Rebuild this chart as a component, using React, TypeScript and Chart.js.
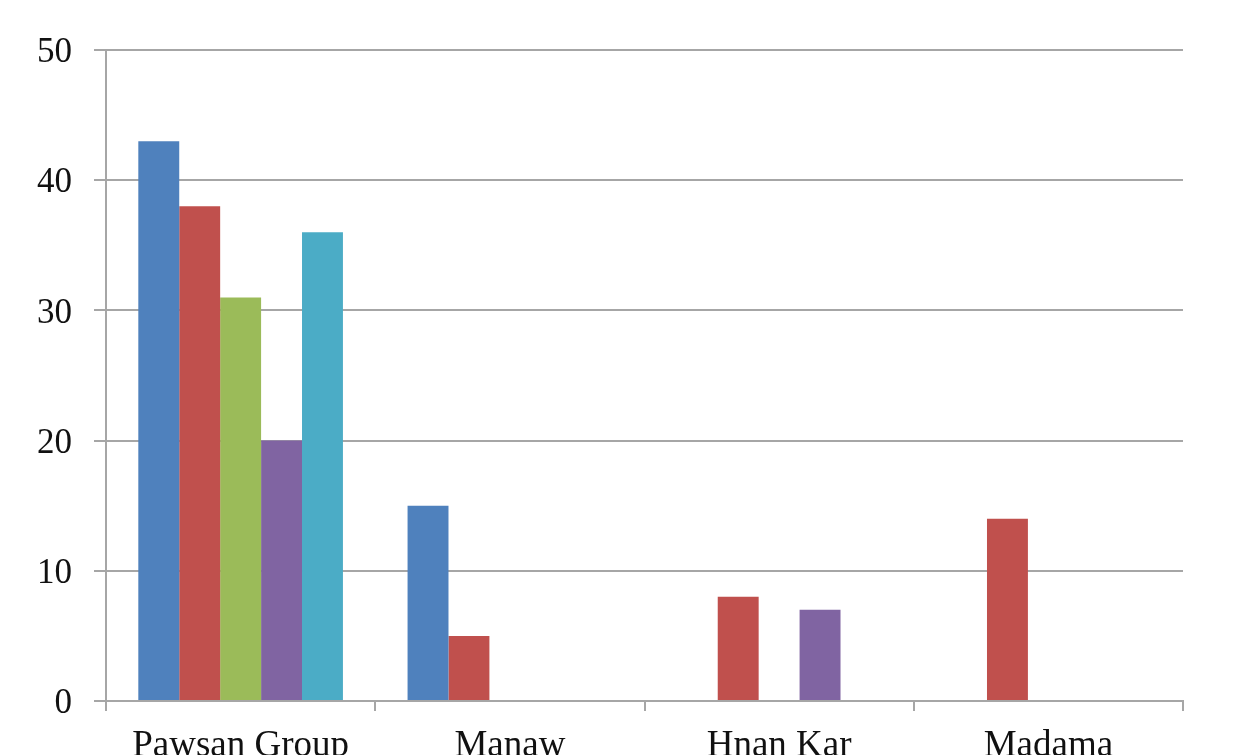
import React, { useEffect, useRef } from "react";
import { Chart, registerables } from "chart.js";

Chart.register(...registerables);

const categories = ["Pawsan Group", "Manaw", "Hnan Kar", "Madama"];
const seriesA = [43, 15, 0, 0];
const seriesB = [38, 5, 8, 14];
const seriesC = [31, 0, 0, 0];
const seriesD = [20, 0, 7, 0];
const seriesE = [36, 0, 0, 0];
const colors = ["#4F81BD", "#C0504D", "#9BBB59", "#8064A2", "#4BACC6"];
const seriesNames = ["Series 1", "Series 2", "Series 3", "Series 4", "Series 5"];

export default function App() {
  const ref = useRef<HTMLCanvasElement | null>(null);
  useEffect(() => {
    if (!ref.current) return;
    const all = [seriesA, seriesB, seriesC, seriesD, seriesE];
    const chart = new Chart(ref.current, {
      type: "bar",
      data: {
        labels: categories,
        datasets: all.map((d, i) => ({
          label: seriesNames[i],
          data: d,
          backgroundColor: colors[i],
          borderWidth: 0,
          categoryPercentage: 0.76,
          barPercentage: 1.0,
        })),
      },
      options: {
        animation: false,
        responsive: false,
        maintainAspectRatio: false,
        layout: { padding: { top: 50, right: 56, left: 0, bottom: 0 } },
        plugins: { legend: { display: false }, tooltip: { enabled: false } },
        scales: {
          x: {
            grid: {
              offset: true,
              drawOnChartArea: false,
              drawTicks: true,
              tickLength: 10,
              color: "#a6a6a6",
              lineWidth: 2,
            },
            border: { color: "#a6a6a6", width: 2 },
            ticks: {
              color: "#111",
              font: { family: "Liberation Serif", size: 37 },
              padding: 13,
              maxRotation: 0,
            },
            afterFit: (s: any) => {
              s.height = 54;
            },
          },
          y: {
            min: 0,
            max: 50,
            ticks: {
              stepSize: 10,
              color: "#111",
              font: { family: "Liberation Serif", size: 35 },
              padding: 22,
              labelOffset: 3,
            },
            grid: {
              color: "#a6a6a6",
              lineWidth: 2,
              tickLength: 12,
            },
            border: { color: "#a6a6a6", width: 2 },
            afterFit: (s: any) => {
              s.width = 106;
            },
          },
        },
      },
    });
    return () => chart.destroy();
  }, []);
  return (
    <div style={{ position: "fixed", left: 0, top: 0, width: 1239, height: 755, background: "#fff" }}>
      <canvas ref={ref} width={1239} height={755} style={{ display: "block" }} />
    </div>
  );
}
